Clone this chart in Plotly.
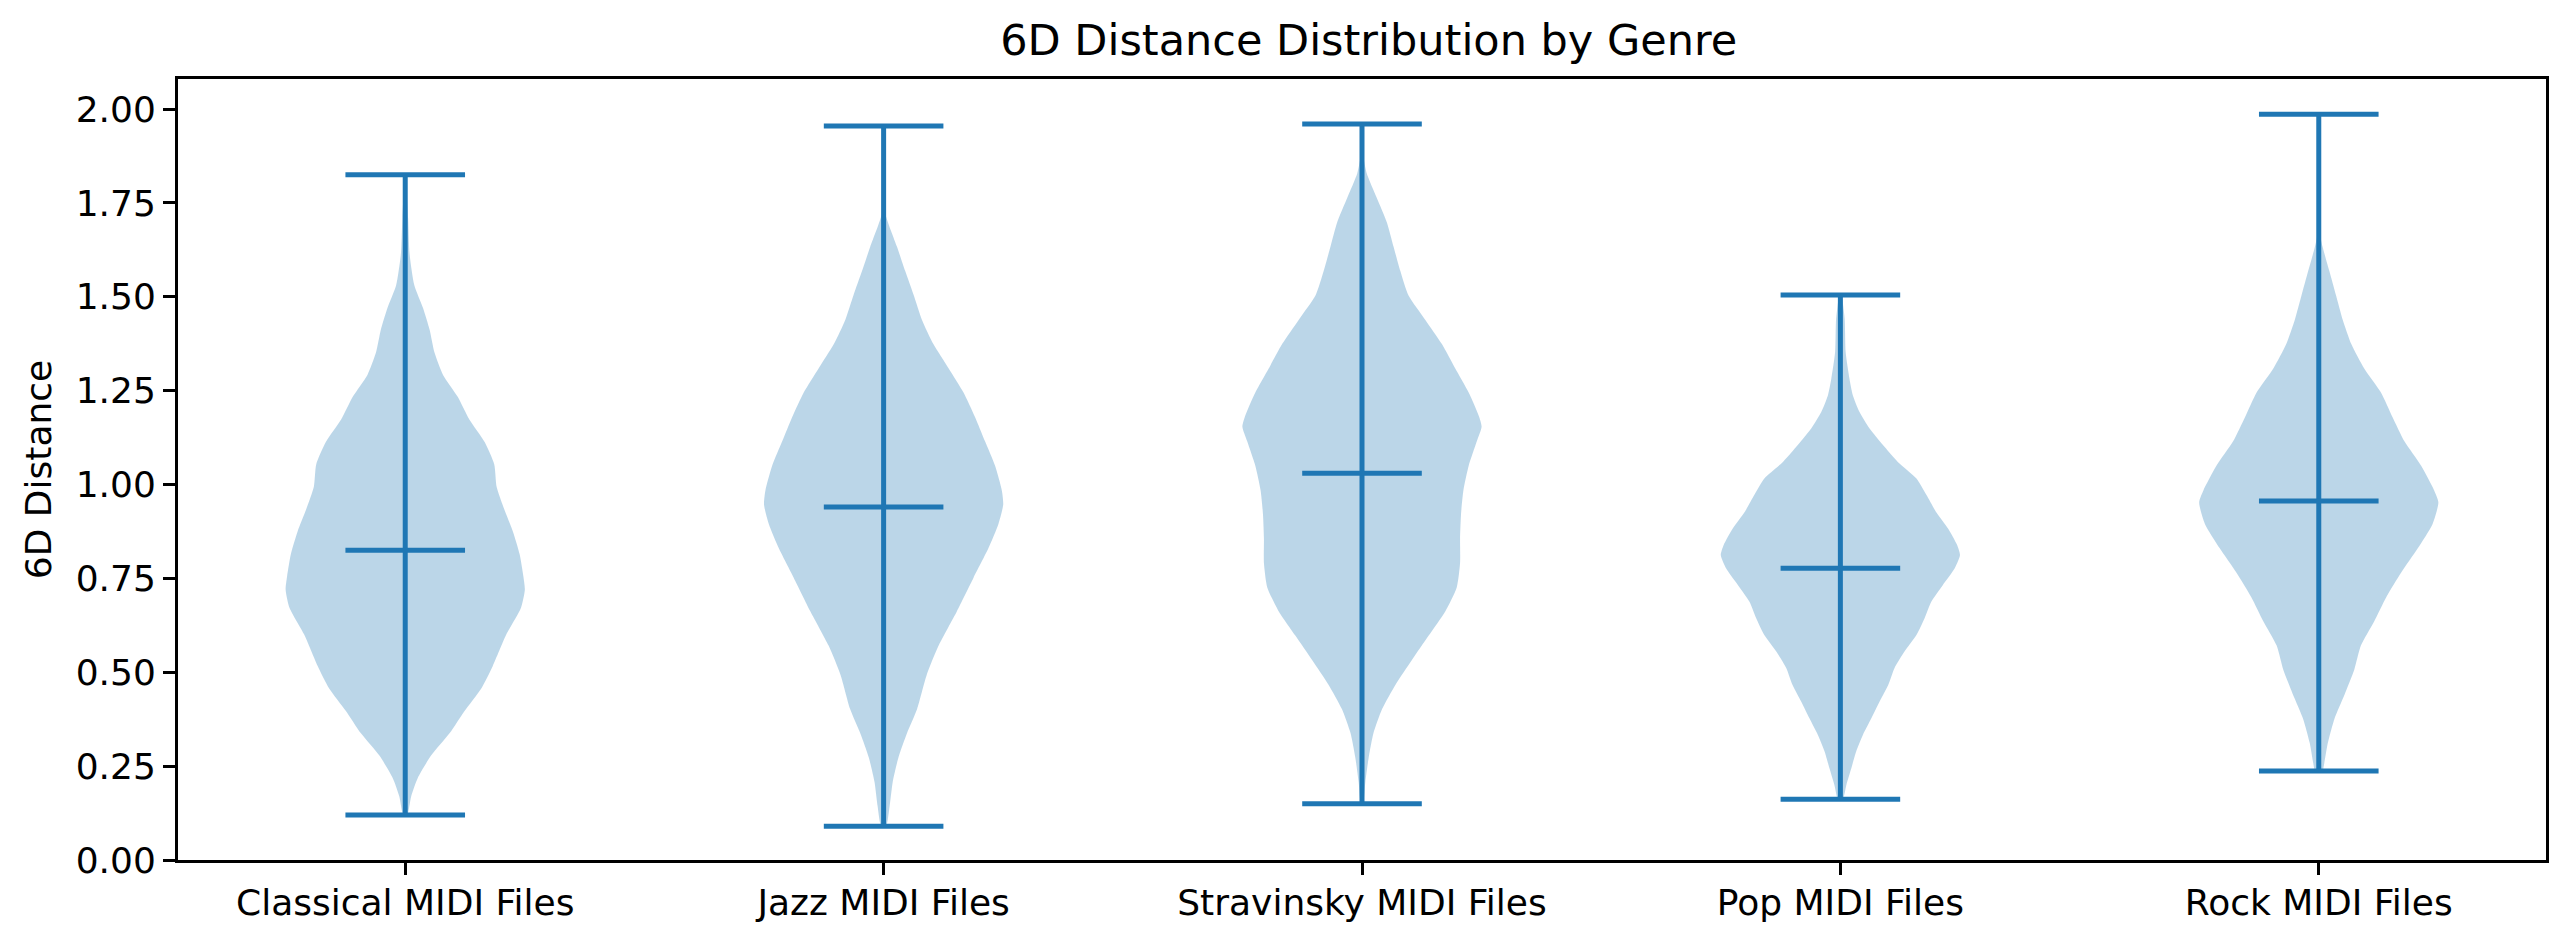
import plotly.graph_objects as go

# genre labels and violin positions
genres = ['Classical MIDI Files', 'Jazz MIDI Files', 'Stravinsky MIDI Files',
          'Pop MIDI Files', 'Rock MIDI Files']
positions = [1, 2, 3, 4, 5]

# min / max / mean of each distribution
mins = [0.12, 0.09, 0.15, 0.162, 0.237]
maxs = [1.825, 1.955, 1.96, 1.505, 1.986]
means = [0.825, 0.94, 1.03, 0.777, 0.956]

# KDE outline of each violin: distance value and half width (x units)
classical_y = [1.825, 1.71, 1.615, 1.531, 1.471, 1.412, 1.352, 1.292, 1.233, 1.173,
               1.113, 1.054, 0.994, 0.934, 0.875, 0.815, 0.755, 0.72, 0.672, 0.60,
               0.517, 0.457, 0.397, 0.338, 0.278, 0.218, 0.17, 0.12]
classical_w = [0.0, 0.006, 0.009, 0.019, 0.037, 0.051, 0.061, 0.079, 0.110, 0.134,
               0.166, 0.186, 0.191, 0.207, 0.225, 0.239, 0.247, 0.25, 0.242, 0.211,
               0.183, 0.159, 0.124, 0.093, 0.054, 0.026, 0.0125, 0.004]

jazz_y = [1.955, 1.80, 1.724, 1.633, 1.569, 1.504, 1.439, 1.374, 1.309, 1.245,
          1.18, 1.115, 1.05, 0.985, 0.947, 0.895, 0.83, 0.752, 0.662, 0.571,
          0.493, 0.402, 0.338, 0.273, 0.208, 0.143, 0.09]
jazz_w = [0.0, 0.001, 0.003, 0.028, 0.045, 0.063, 0.080, 0.104, 0.136, 0.167,
          0.191, 0.212, 0.233, 0.247, 0.25, 0.240, 0.219, 0.188, 0.153, 0.115,
          0.090, 0.070, 0.049, 0.031, 0.019, 0.0125, 0.005]

stravinsky_y = [1.96, 1.88, 1.828, 1.763, 1.698, 1.633, 1.569, 1.504, 1.439, 1.374,
                1.309, 1.245, 1.18, 1.154, 1.115, 1.05, 0.985, 0.921, 0.856, 0.791,
                0.726, 0.662, 0.597, 0.532, 0.467, 0.402, 0.338, 0.273, 0.208, 0.15]
stravinsky_w = [0.0, 0.002, 0.010, 0.031, 0.052, 0.066, 0.080, 0.097, 0.132, 0.167,
                0.195, 0.223, 0.245, 0.25, 0.240, 0.223, 0.212, 0.207, 0.205, 0.205,
                0.198, 0.174, 0.139, 0.104, 0.070, 0.042, 0.024, 0.014, 0.007, 0.002]

pop_y = [1.505, 1.441, 1.353, 1.282, 1.238, 1.193, 1.149, 1.105, 1.06, 1.016,
         0.972, 0.927, 0.883, 0.839, 0.812, 0.777, 0.732, 0.688, 0.644, 0.599,
         0.555, 0.511, 0.466, 0.422, 0.378, 0.333, 0.289, 0.245, 0.20, 0.162]
pop_w = [0.003, 0.009, 0.011, 0.019, 0.026, 0.040, 0.061, 0.089, 0.120, 0.159,
         0.180, 0.200, 0.225, 0.244, 0.25, 0.239, 0.214, 0.190, 0.176, 0.159,
         0.134, 0.113, 0.100, 0.082, 0.065, 0.047, 0.033, 0.023, 0.0125, 0.005]

rock_y = [1.986, 1.75, 1.672, 1.633, 1.569, 1.504, 1.439, 1.374, 1.309, 1.245,
          1.18, 1.115, 1.05, 0.985, 0.953, 0.895, 0.83, 0.765, 0.70, 0.636,
          0.571, 0.506, 0.441, 0.377, 0.312, 0.247, 0.237]
rock_w = [0.0, 0.001, 0.002, 0.008, 0.022, 0.036, 0.050, 0.068, 0.095, 0.130,
          0.154, 0.179, 0.214, 0.241, 0.25, 0.238, 0.207, 0.172, 0.141, 0.116,
          0.088, 0.074, 0.054, 0.033, 0.019, 0.010, 0.008]

profiles = [(classical_y, classical_w), (jazz_y, jazz_w), (stravinsky_y, stravinsky_w),
            (pop_y, pop_w), (rock_y, rock_w)]

BLUE = '#1f77b4'
FILL = 'rgba(31,119,180,0.3)'
LW = 5
CAP = 0.125  # half length of the min/max/mean bars

fig = go.Figure()

# violin bodies
for pos, (ys, ws) in zip(positions, profiles):
    xs = [pos + w for w in ws] + [pos - w for w in reversed(ws)]
    yy = list(ys) + list(reversed(ys))
    fig.add_trace(go.Scatter(
        x=xs, y=yy, mode='lines', fill='toself', fillcolor=FILL,
        line=dict(width=0, color=FILL, shape='spline', smoothing=0.6),
        hoverinfo='skip', showlegend=False))

# vertical bars, extrema caps and mean bars
lx, ly = [], []
for pos, lo, hi, mu in zip(positions, mins, maxs, means):
    lx += [pos, pos, None]
    ly += [lo, hi, None]
    for v in (lo, hi, mu):
        lx += [pos - CAP, pos + CAP, None]
        ly += [v, v, None]
fig.add_trace(go.Scatter(x=lx, y=ly, mode='lines',
                         line=dict(color=BLUE, width=LW),
                         hoverinfo='skip', showlegend=False))

font = dict(family='DejaVu Sans', size=36, color='black')

# the html page adds an 8px body margin, so the figure is 8px smaller
W, H = 2552, 937
fig.update_layout(
    width=W, height=H,
    margin=dict(l=170, r=11, t=71, b=85),
    paper_bgcolor='white', plot_bgcolor='white',
    font=font,
    title=dict(text='6D Distance Distribution by Genre', x=0.5332, xanchor='center',
               y=1 - 32 / H, yanchor='middle',
               font=dict(family='DejaVu Sans', size=43, color='black')),
)

fig.update_xaxes(
    range=[0.525, 5.475], tickvals=positions, ticktext=genres,
    showgrid=False, zeroline=False,
    showline=True, mirror=True, linecolor='black', linewidth=2.9,
    ticks='outside', ticklen=12, tickwidth=2.9, tickcolor='black',
    tickfont=font, ticklabelstandoff=-3,
)
fig.update_yaxes(
    range=[0, 2.08], tickvals=[0, 0.25, 0.5, 0.75, 1.0, 1.25, 1.5, 1.75, 2.0],
    tickformat='.2f',
    showgrid=False, zeroline=False,
    showline=True, mirror=True, linecolor='black', linewidth=2.9,
    ticks='outside', ticklen=12, tickwidth=2.9, tickcolor='black',
    tickfont=font,
    title=dict(text='6D Distance', font=font, standoff=14),
)

fig.write_html('out.html')
